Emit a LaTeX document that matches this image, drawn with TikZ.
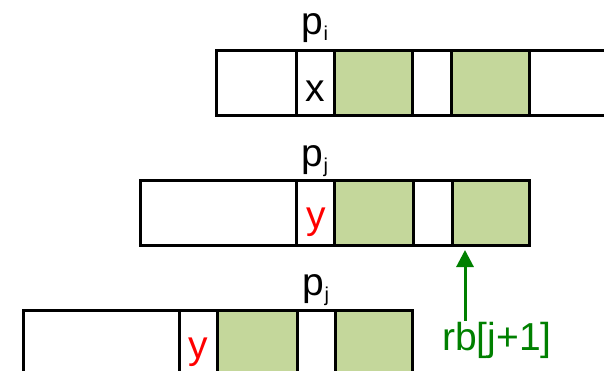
\documentclass[tikz,border=0pt]{standalone}
\usepackage{fontspec}
\setmainfont{Liberation Sans}
\usetikzlibrary{arrows.meta}
\definecolor{cellgreen}{RGB}{196,215,155}
\definecolor{arrowgreen}{RGB}{0,128,0}
\newcommand{\lowidx}[1]{\raisebox{-6pt}{\fontsize{20}{20}\selectfont #1}}
\tikzset{
  cell/.style={draw=black, line width=3pt},
  green cell/.style={cell, fill=cellgreen},
  lbl/.style={font=\fontsize{39}{39}\selectfont, inner sep=0pt, anchor=base},
}
\begin{document}
\begin{tikzpicture}[x=1pt, y=-1pt]
  \useasboundingbox (0,0) rectangle (604,371);
  \clip (0,0) rectangle (604,371);

  % first array (process i)
  \draw[cell] (216,51) rectangle (296,116);
  \draw[cell] (296,51) rectangle (334,116);
  \draw[green cell] (334,51) rectangle (412,116);
  \draw[cell] (412,51) rectangle (451,116);
  \draw[green cell] (451,51) rectangle (529,116);
  \draw[cell] (620,51) -- (529,51) -- (529,116) -- (620,116);
  \node[lbl] (pi) at (315,35) {p\lowidx{i}};
  \node[lbl] (x) at (315,102) {x};

  % second array (process j)
  \draw[cell] (140,181) rectangle (296,245);
  \draw[cell] (296,181) rectangle (334,245);
  \draw[green cell] (334,181) rectangle (413,245);
  \draw[cell] (413,181) rectangle (452,245);
  \draw[green cell] (452,181) rectangle (529,245);
  \node[lbl] (pj1) at (315,167) {p\lowidx{j}};
  \node[lbl, text=red] (y1) at (316,228) {y};

  % third array (process j, shifted)
  \draw[cell] (23,310) rectangle (179,400);
  \draw[cell] (179,310) rectangle (217,400);
  \draw[green cell] (217,310) rectangle (297,400);
  \draw[cell] (297,310) rectangle (335,400);
  \draw[green cell] (335,310) rectangle (412,400);
  \node[lbl] (pj2) at (316,295) {p\lowidx{j}};
  \node[lbl, text=red] (y2) at (198,358) {y};

  % pointer rb[j+1]
  \node[lbl, text=arrowgreen] (rb) at (497,350) {rb[j+1]};
  \coordinate (tip) at (465,250);
  \draw[arrowgreen, line width=3pt, -{Triangle[width=17pt,length=17pt]}]
    (tip |- rb.north) ++(0,-1) -- (tip);
\end{tikzpicture}
\end{document}
